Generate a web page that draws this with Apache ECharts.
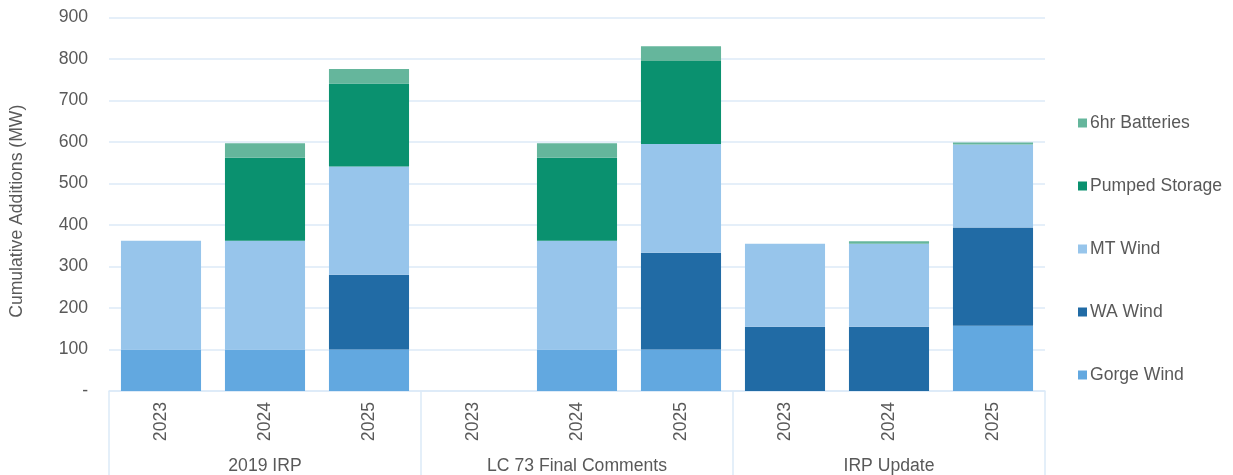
<!DOCTYPE html>
<html>
<head>
<meta charset="utf-8">
<script src="https://cdn.jsdelivr.net/npm/echarts@6/dist/echarts.min.js"></script>
<style>
  html, body { margin: 0; padding: 0; background: #fff; }
  #chart { width: 1233px; height: 475px; }
</style>
</head>
<body>
<div id="chart"></div>
<script>
// Scenario groups and the years shown under each one
const groups = ['2019 IRP', 'LC 73 Final Comments', 'IRP Update'];
const years = ['2023', '2024', '2025'];

// Cumulative additions (MW) per resource, one value per group/year column
const gorgeWind      = [100, 100, 100,   0, 100, 100,   0,   0, 157];
const waWind         = [  0,   0, 180,   0,   0, 233, 155, 155, 237];
const mtWind         = [262, 262, 261,   0, 262, 262, 200, 200, 200];
const pumpedStorage  = [  0, 200, 200,   0, 200, 200,   0,   0,   0];
const batteries6hr   = [  0,  35,  35,   0,  35,  36,   0,   6,   5];

const yTicks = [0, 100, 200, 300, 400, 500, 600, 700, 800, 900];

const textColor = '#595959';
const gridColor = '#DCEAF7';
const fontFamily = 'Liberation Sans, Arial, sans-serif';

// One category per column, keyed as "group|year"
const columns = [];
groups.forEach(g => years.forEach(y => columns.push(g + '|' + y)));

const seriesDefs = [
  { name: 'Gorge Wind',     data: gorgeWind,     color: '#62A8E0' },
  { name: 'WA Wind',        data: waWind,        color: '#216BA5' },
  { name: 'MT Wind',        data: mtWind,        color: '#97C5EB' },
  { name: 'Pumped Storage', data: pumpedStorage, color: '#0A916F' },
  { name: '6hr Batteries',  data: batteries6hr,  color: '#65B69C' }
];

const chart = echarts.init(document.getElementById('chart'), null, { renderer: 'canvas' });

chart.setOption({
  animation: false,
  textStyle: { fontFamily: fontFamily, color: textColor },
  grid: { left: 108, right: 188, top: 17.5, bottom: 83 },
  legend: {
    orient: 'vertical',
    left: 1073,
    top: 109,
    itemGap: 45,
    itemWidth: 9,
    itemHeight: 9,
    icon: 'rect',
    data: ['6hr Batteries', 'Pumped Storage', 'MT Wind', 'WA Wind', 'Gorge Wind'],
    textStyle: { fontSize: 17.6, color: textColor, padding: [0, 0, 0, -2] }
  },
  xAxis: [
    {
      type: 'category',
      data: columns,
      axisLine: { show: true, lineStyle: { color: gridColor, width: 1.5 } },
      axisTick: { show: false },
      axisLabel: {
        interval: 0,
        rotate: 90,
        margin: 11,
        fontSize: 17.6,
        color: textColor,
        formatter: v => v.split('|')[1]
      }
    },
    {
      type: 'category',
      data: groups,
      position: 'bottom',
      axisLine: { show: false },
      axisTick: { show: true, interval: 0, length: 85, lineStyle: { color: gridColor, width: 1.5 } },
      axisLabel: { interval: 0, margin: 66, fontSize: 17.6, color: textColor },
      splitLine: { show: false }
    }
  ],
  yAxis: {
    type: 'value',
    min: yTicks[0],
    max: yTicks[yTicks.length - 1],
    interval: yTicks[1] - yTicks[0],
    name: 'Cumulative Additions (MW)',
    nameLocation: 'middle',
    nameGap: 83,
    nameTextStyle: { fontSize: 17.6, color: textColor, padding: [0, 14, 0, 0] },
    axisLine: { show: false },
    axisTick: { show: false },
    axisLabel: {
      margin: 21,
      fontSize: 17.6,
      color: textColor,
      formatter: v => (v === 0 ? '-' : String(v))
    },
    splitLine: { lineStyle: { color: gridColor, width: 1.5 } }
  },
  series: seriesDefs.map(s => ({
    name: s.name,
    type: 'bar',
    stack: 'total',
    xAxisIndex: 0,
    barWidth: '77%',
    data: s.data,
    itemStyle: { color: s.color },
    emphasis: { disabled: true }
  }))
});
</script>
</body>
</html>
